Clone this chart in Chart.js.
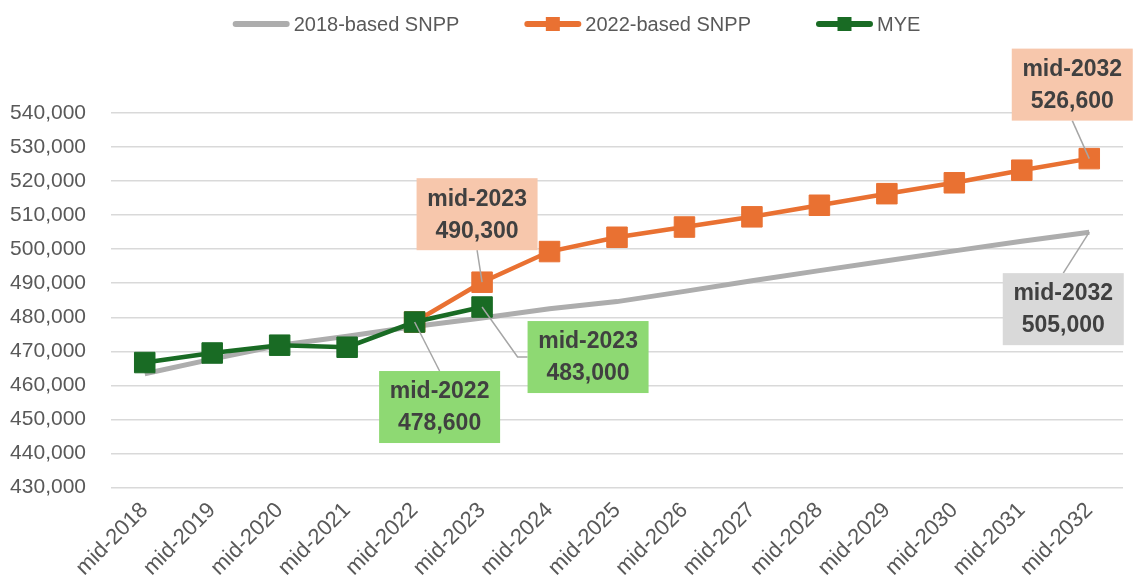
<!DOCTYPE html>
<html>
<head>
<meta charset="utf-8">
<title>Population projections</title>
<script src="https://cdn.jsdelivr.net/npm/chart.js@4/dist/chart.umd.min.js"></script>
<style>
  html, body { margin: 0; padding: 0; background: #fff; }
  #wrap { width: 1133px; height: 586px; }
</style>
</head>
<body>
<div id="wrap"><canvas id="popChart" width="1133" height="586"></canvas></div>
<script>
// Categories (x axis)
const categories = ['mid-2018', 'mid-2019', 'mid-2020', 'mid-2021', 'mid-2022', 'mid-2023', 'mid-2024',
  'mid-2025', 'mid-2026', 'mid-2027', 'mid-2028', 'mid-2029', 'mid-2030', 'mid-2031', 'mid-2032'];

// Series values
const snpp2018 = [463400, 467700, 471800, 474400, 477300, 479800, 482500, 484600, 487600, 490700,
  493700, 496600, 499500, 502300, 505000];
const snpp2022 = [null, null, null, null, 478600, 490300, 499300, 503500, 506500, 509500,
  512900, 516300, 519500, 523200, 526600];
const mye = [466700, 469500, 471800, 471200, 478600, 483000, null, null, null, null,
  null, null, null, null, null];

// Y axis ticks
const yMin = 430000;
const yMax = 540000;
const yStep = 10000;

// Which points get a callout box, and where the box sits relative to the point
const callouts = [
  { ds: 1, i: 5, dx: -5, dy: -68, fill: '#F7C7AC' },
  { ds: 2, i: 4, dx: 25, dy: 85, fill: '#8ED973' },
  { ds: 2, i: 5, dx: 106, dy: 50, fill: '#8ED973' },
  { ds: 1, i: 14, dx: -17, dy: -74, fill: '#F7C7AC' },
  { ds: 0, i: 14, dx: -26, dy: 77, fill: '#D9D9D9' }
];

const textGrey = '#595959';
const fontFamily = "'Liberation Sans', Arial, sans-serif";

// Draws the legend (line + marker samples) across the top
const legendPlugin = {
  id: 'topLegend',
  afterDraw(chart) {
    const ctx = chart.ctx;
    const sampleW = 57, gapText = 4, gapItem = 65, y = 24;
    ctx.save();
    ctx.font = '20px ' + fontFamily;
    const items = chart.data.datasets.map(ds => ({ ds, tw: ctx.measureText(ds.label).width }));
    const total = items.reduce((s, it) => s + sampleW + gapText + it.tw, 0) + gapItem * (items.length - 1);
    let x = chart.width / 2 + 10 - total / 2;
    items.forEach(it => {
      ctx.strokeStyle = it.ds.borderColor;
      ctx.lineWidth = 6;
      ctx.lineCap = 'round';
      ctx.beginPath();
      ctx.moveTo(x + 3, y);
      ctx.lineTo(x + sampleW - 3, y);
      ctx.stroke();
      if (it.ds.pointRadius > 0) {
        ctx.fillStyle = it.ds.borderColor;
        ctx.fillRect(x + sampleW / 2 - 7, y - 7, 14, 14);
      }
      ctx.fillStyle = textGrey;
      ctx.textAlign = 'left';
      ctx.textBaseline = 'middle';
      ctx.fillText(it.ds.label, x + sampleW + gapText, y + 1);
      x += sampleW + gapText + it.tw + gapItem;
    });
    ctx.restore();
  }
};

// Callout boxes with leader lines
const calloutPlugin = {
  id: 'callouts',
  afterDatasetsDraw(chart) {
    const ctx = chart.ctx;
    const boxW = 121, boxH = 72;
    ctx.save();
    callouts.forEach(c => {
      const pt = chart.getDatasetMeta(c.ds).data[c.i];
      const value = chart.data.datasets[c.ds].data[c.i];
      const cx = pt.x + c.dx, cy = pt.y + c.dy;
      const left = cx - boxW / 2, top = cy - boxH / 2;

      // leader line
      ctx.strokeStyle = '#A6A6A6';
      ctx.lineWidth = 1.5;
      ctx.beginPath();
      ctx.moveTo(pt.x, pt.y);
      if (pt.x >= left && pt.x <= left + boxW) {
        ctx.lineTo(cx, pt.y < top ? top : top + boxH);
      } else if (pt.x < left) {
        ctx.lineTo(left - 10, cy);
        ctx.lineTo(left, cy);
      } else {
        ctx.lineTo(left + boxW + 10, cy);
        ctx.lineTo(left + boxW, cy);
      }
      ctx.stroke();

      // box
      ctx.fillStyle = c.fill;
      ctx.fillRect(left, top, boxW, boxH);

      // text
      ctx.fillStyle = '#404040';
      ctx.font = 'bold 23px ' + fontFamily;
      ctx.textAlign = 'center';
      ctx.textBaseline = 'middle';
      ctx.fillText(categories[c.i], cx, cy - 15);
      ctx.fillText(value.toLocaleString('en-GB'), cx, cy + 17);
    });
    ctx.restore();
  }
};

const ctx = document.getElementById('popChart').getContext('2d');
const chart = new Chart(ctx, {
  type: 'line',
  data: {
    labels: categories,
    datasets: [
      {
        label: '2018-based SNPP',
        data: snpp2018,
        borderColor: '#ADADAD',
        backgroundColor: '#ADADAD',
        borderWidth: 5,
        pointRadius: 0,
        order: 3
      },
      {
        label: '2022-based SNPP',
        data: snpp2022,
        borderColor: '#E97132',
        backgroundColor: '#E97132',
        borderWidth: 4.5,
        pointStyle: 'rect',
        pointRadius: 14.5,
        pointBorderWidth: 1,
        pointBackgroundColor: '#E97132',
        pointBorderColor: '#E97132',
        order: 2
      },
      {
        label: 'MYE',
        data: mye,
        borderColor: '#196B24',
        backgroundColor: '#196B24',
        borderWidth: 4.5,
        pointStyle: 'rect',
        pointRadius: 14.5,
        pointBorderWidth: 1,
        pointBackgroundColor: '#196B24',
        pointBorderColor: '#196B24',
        order: 1
      }
    ]
  },
  options: {
    responsive: false,
    animation: false,
    devicePixelRatio: 1,
    layout: {
      autoPadding: false,
      padding: { left: 8, right: 10, top: 113, bottom: -5 }
    },
    scales: {
      x: {
        offset: true,
        grid: { display: false, drawTicks: false },
        border: { display: false },
        ticks: {
          color: textGrey,
          font: { family: fontFamily, size: 22 },
          maxRotation: 45,
          minRotation: 45,
          padding: 10,
          autoSkip: false
        }
      },
      y: {
        min: yMin,
        max: yMax,
        afterFit: scale => { scale.width = 103; },
        grid: { color: '#D9D9D9', lineWidth: 1.5, drawTicks: false },
        border: { display: false },
        ticks: {
          stepSize: yStep,
          color: textGrey,
          font: { family: fontFamily, size: 21 },
          padding: 25,
          callback: v => v.toLocaleString('en-GB')
        }
      }
    },
    plugins: {
      legend: { display: false },
      tooltip: { enabled: false }
    }
  },
  plugins: [legendPlugin, calloutPlugin]
});
</script>
</body>
</html>
